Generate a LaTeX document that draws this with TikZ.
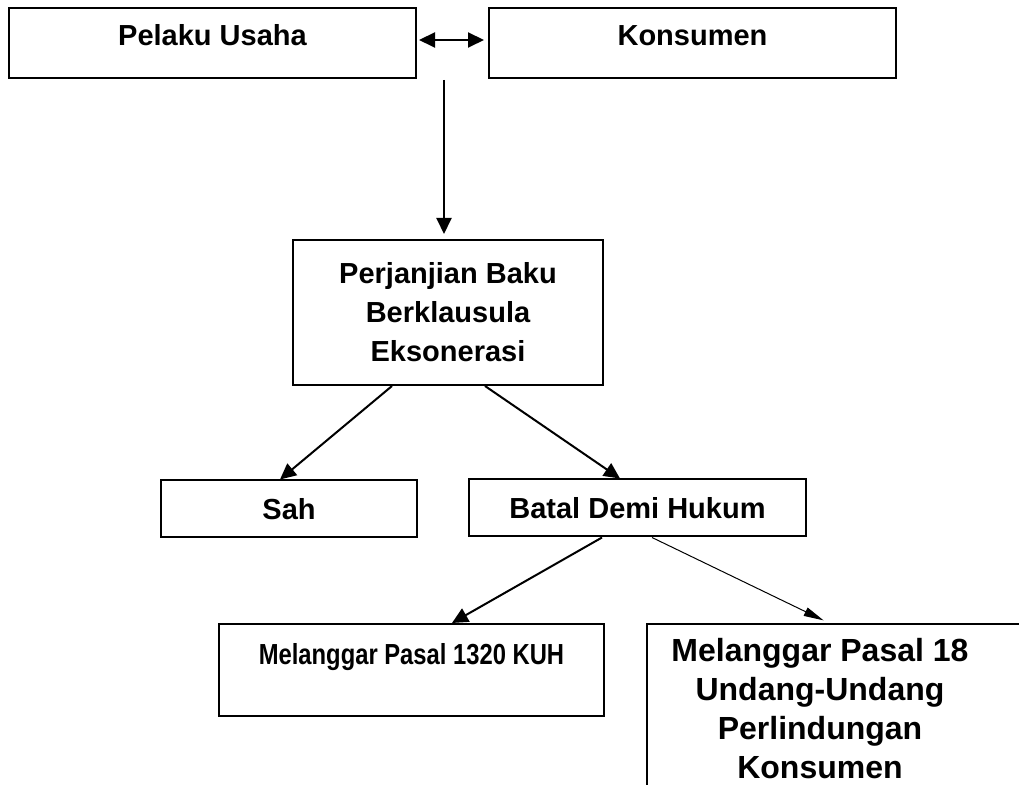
\documentclass[tikz,border=0pt]{standalone}
\usepackage{fontspec}
\setmainfont{Liberation Sans}
\newfontfamily\narrowfont[FakeStretch=0.82]{Liberation Sans}
\usetikzlibrary{arrows.meta, positioning}

\begin{document}
\begin{tikzpicture}[
    % one unit = one pixel of the 1019x785 frame
    x=0.5pt, y=-0.5pt,
    line width=1pt,
    % Core box styling
    base/.style={
        draw,
        line width=1pt,
        align=center,
        inner sep=0pt,
        font=\bfseries\fontsize{14.5pt}{19.5pt}\selectfont
    },
    party/.style={base, minimum width=203.5pt, minimum height=35pt, text height=10.5pt, text depth=7.5pt},
    contract/.style={base, minimum width=155pt, minimum height=72.5pt},
    verdict/.style={base, minimum height=28.5pt},
    breach/.style={base, minimum height=46pt},
    % Typography helpers
    narrow_node/.style={font=\narrowfont\bfseries\fontsize{14.5pt}{19.5pt}\selectfont, text height=10.5pt, text depth=15.5pt},
    law_node/.style={font=\bfseries\fontsize{16pt}{19.5pt}\selectfont, align=center, inner sep=0pt},
    thin/.style={line width=0.5pt, -{Triangle[length=10pt, width=4.5pt]}},
    >={Triangle[length=8pt, width=7.5pt]}
]
    \useasboundingbox (0,0) rectangle (1019,785);

    % ==========================================
    % 1. PARTIES
    % ==========================================
    \node[party] (pelaku) at (212.5,43) {Pelaku Usaha};
    \node[party] (konsumen) at (692.5,43) {Konsumen};
    \coordinate (deal) at (444,80);

    % ==========================================
    % 2. STANDARD CONTRACT AND ITS STATUS
    % ==========================================
    \node[contract] (baku) at (448,312.5) {Perjanjian Baku\\Berklausula\\Eksonerasi};
    \node[verdict, minimum width=128pt] (sah) at (289,509) {Sah};
    \node[verdict, minimum width=168.5pt] (batal) at (637.5,508) {Batal Demi Hukum};

    % ==========================================
    % 3. GROUNDS FOR NULLITY
    % ==========================================
    \node[breach, minimum width=192.5pt, narrow_node] (kuh) at (411.5,670) {Melanggar Pasal 1320 KUH};
    \node[base, anchor=north west, minimum width=250pt, minimum height=120pt] (uupk) at (646,623) {};
    \node[law_node, anchor=north] (uupktext) at (820,637) {Melanggar Pasal 18\\Undang-Undang\\Perlindungan\\Konsumen};

    % Connections
    \draw[<->, shorten <=1pt, shorten >=2pt] ([yshift=1.5pt]pelaku.east) -- ([yshift=1.5pt]konsumen.west);
    \draw[->, shorten >=2.5pt] (deal) -- (deal |- baku.north);
    \draw[->] ([xshift=-28pt]baku.south) -- ([xshift=-4.5pt]sah.north);
    \draw[->] ([xshift=18.5pt]baku.south) -- ([xshift=-8.75pt]batal.north);
    \draw[->] ([xshift=-17.75pt]batal.south) -- ([xshift=20.25pt]kuh.north);
    \draw[thin, shorten >=3pt] ([xshift=7.25pt]batal.south) -- ([xshift=91.5pt]uupk.north west);

\end{tikzpicture}
\end{document}
